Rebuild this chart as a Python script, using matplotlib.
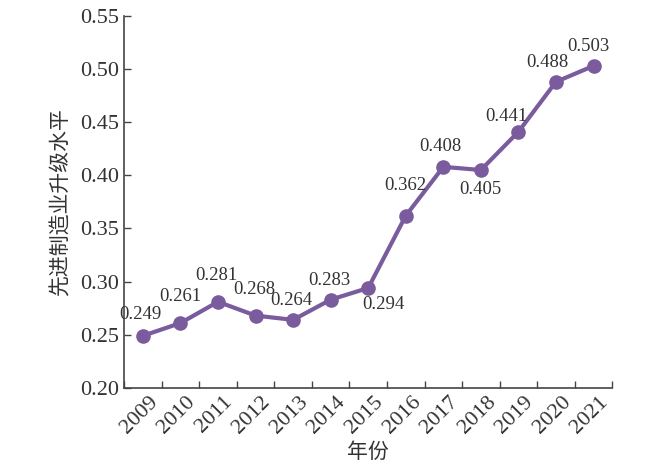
import numpy as np
import matplotlib
matplotlib.use('Agg')
import matplotlib.pyplot as plt

plt.rcParams['font.family'] = ['Liberation Serif', 'Noto Sans CJK SC']

years = ['2009', '2010', '2011', '2012', '2013', '2014', '2015',
         '2016', '2017', '2018', '2019', '2020', '2021']
values = [0.249, 0.261, 0.281, 0.268, 0.264, 0.283, 0.294,
          0.362, 0.408, 0.405, 0.441, 0.488, 0.503]
# label offsets in points (dx, dy)
offsets = [(-2, 15), (0, 19), (-1, 19), (-1, 19), (-1, 14), (-1, 14), (11, -12),
           (0, 22), (-2, 15), (0, -14), (-9, 11), (-6, 14), (-4, 14)]

col = '#7a5c9e'
txt = '#333333'

fig = plt.figure(figsize=(6.5, 4.69), dpi=100)
ax = fig.add_axes([0.191, 0.173, 0.751, 0.793])

x = np.arange(len(years)) + 0.5
ax.plot(x, values, color=col, lw=3, marker='o', ms=9.5, zorder=3)

for xi, v, (dx, dy) in zip(x, values, offsets):
    ax.annotate(f'{v:.3f}', (xi, v), xytext=(dx, dy), textcoords='offset points',
                ha='center', va='center', fontsize=13.5, color=txt)

ax.set_xlim(0, len(years))
ax.set_ylim(0.20, 0.55)
ax.set_xticks(np.arange(len(years) + 1))
ax.set_xticklabels([''] + years, rotation=45, ha='right', fontsize=16, color=txt)
ax.set_yticks(np.arange(0.20, 0.551, 0.05))
ax.set_yticklabels([f'{t:.2f}' for t in np.arange(0.20, 0.551, 0.05)], fontsize=16, color=txt)
ax.tick_params(direction='in', length=5, color='#444444', width=1)

for s in ['top', 'right']:
    ax.spines[s].set_visible(False)
for s in ['left', 'bottom']:
    ax.spines[s].set_color('#444444')
    ax.spines[s].set_linewidth(1.2)

ax.set_xlabel('年份', fontsize=15, color=txt, labelpad=4)
ax.set_ylabel('先进制造业升级水平', fontsize=15, color=txt, labelpad=6)

fig.savefig('out.png', dpi=100)
